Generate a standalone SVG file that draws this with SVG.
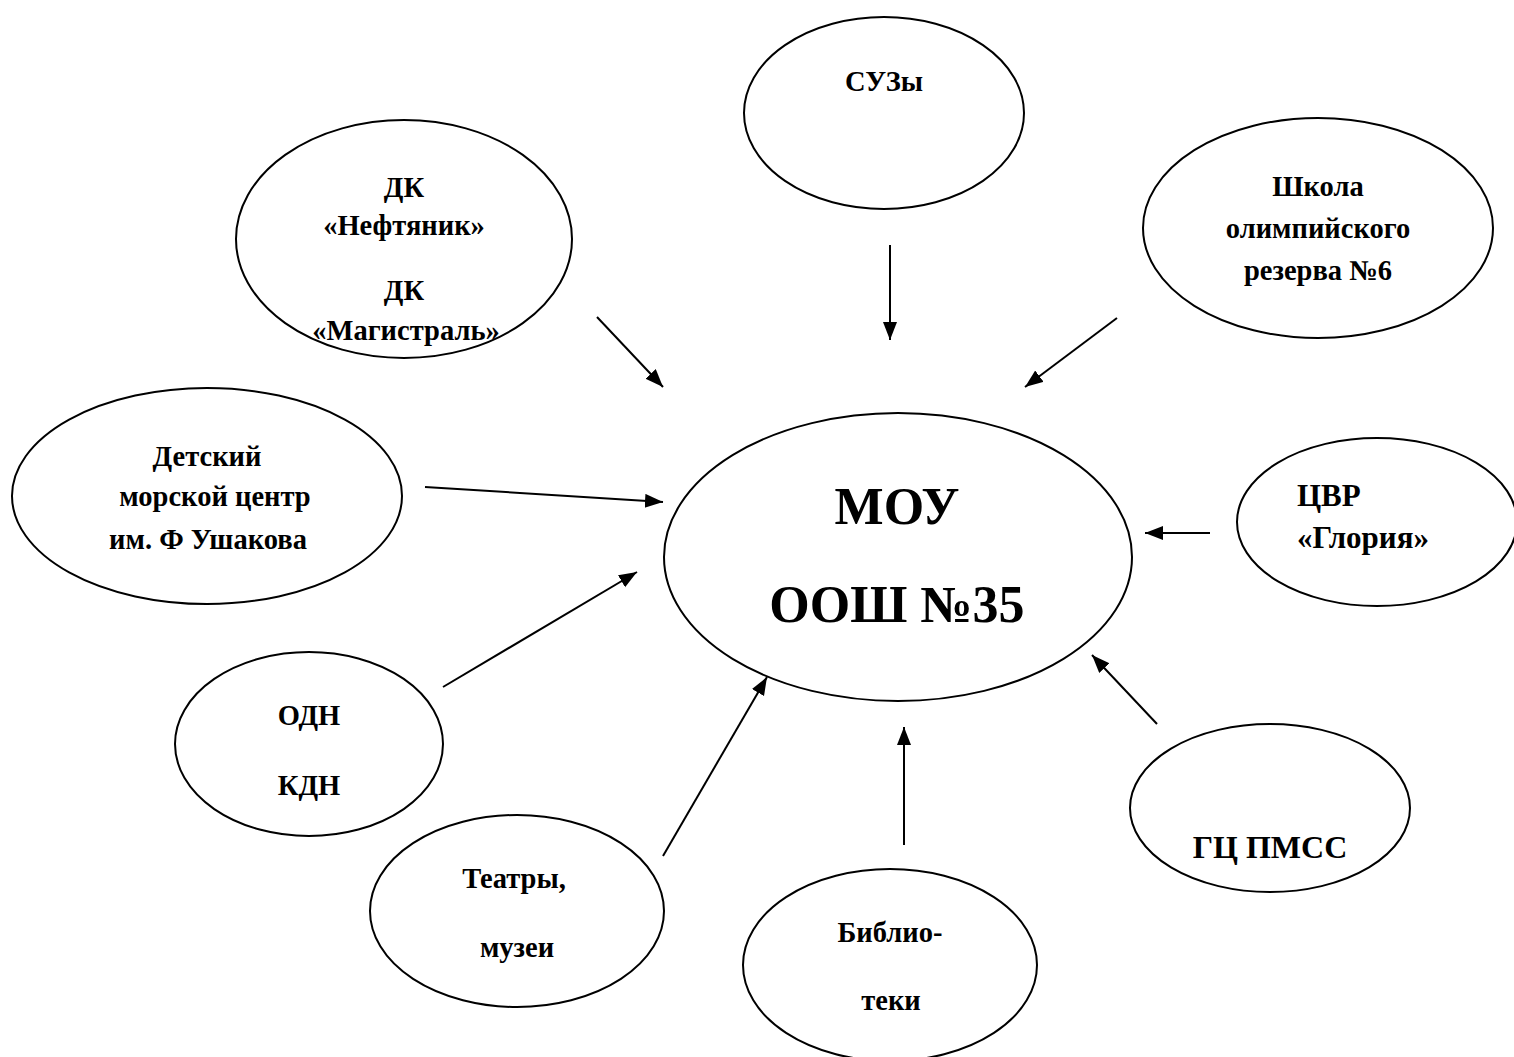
<svg xmlns="http://www.w3.org/2000/svg" width="1514" height="1057" viewBox="0 0 1514 1057">
<defs>
<style>
.n{fill:#fff;stroke:#000;stroke-width:2}
.t{font-family:"Liberation Serif","Times New Roman",serif;font-weight:bold;font-size:28.5px;fill:#000;text-anchor:middle}
.b{font-size:52px}
.l{font-size:31px}
.c line{stroke:#000;stroke-width:2;marker-end:url(#ah)}
</style>
<marker id="ah" markerUnits="userSpaceOnUse" markerWidth="20" markerHeight="16" refX="18" refY="7" orient="auto">
<path d="M0,0 L18,7 L0,14 z" fill="#000"/>
</marker>
</defs>
<rect width="1514" height="1057" fill="#fff"/>
<g id="suzy"><ellipse class="n" cx="884" cy="113" rx="140" ry="96"/><text class="t" x="884" y="91">СУЗы</text></g>
<g id="dk"><ellipse class="n" cx="404" cy="239" rx="168" ry="119"/>
<text class="t" x="404" y="197">ДК</text><text class="t" x="404" y="235">«Нефтяник»</text><text class="t" x="404" y="300">ДК</text><text class="t" x="406" y="340">«Магистраль»</text></g>
<g id="shkola"><ellipse class="n" cx="1318" cy="228" rx="175" ry="110"/>
<text class="t" x="1318" y="196">Школа</text><text class="t" x="1318" y="238">олимпийского</text><text class="t" x="1318" y="280">резерва №6</text></g>
<g id="detskiy"><ellipse class="n" cx="207" cy="496" rx="195" ry="108"/>
<text class="t" x="207" y="466">Детский</text><text class="t" x="215" y="506">морской центр</text><text class="t" x="208" y="549">им. Ф Ушакова</text></g>
<g id="mou"><ellipse class="n" cx="898" cy="557" rx="234" ry="144"/>
<text class="t b" x="897" y="524">МОУ</text><text class="t b" x="897" y="622">ООШ №35</text></g>
<g id="cvr"><ellipse class="n" cx="1377" cy="522" rx="140" ry="84"/>
<text class="t l" x="1297" y="506" style="text-anchor:start">ЦВР</text><text class="t l" x="1297" y="548" style="text-anchor:start">«Глория»</text></g>
<g id="odn"><ellipse class="n" cx="309" cy="744" rx="134" ry="92"/>
<text class="t" x="309" y="725">ОДН</text><text class="t" x="309" y="795">КДН</text></g>
<g id="teatry"><ellipse class="n" cx="517" cy="911" rx="147" ry="96"/>
<text class="t" x="514" y="888">Театры,</text><text class="t" x="517" y="957">музеи</text></g>
<g id="biblio"><ellipse class="n" cx="890" cy="965" rx="147" ry="96"/>
<text class="t" x="890" y="942">Библио-</text><text class="t" x="891" y="1010">теки</text></g>
<g id="gc"><ellipse class="n" cx="1270" cy="808" rx="140" ry="84"/>
<text class="t l" x="1270" y="858" style="font-size:32px">ГЦ ПМСС</text></g>
<g id="connectors" class="c">
<line x1="597" y1="317" x2="663" y2="387"/>
<line x1="890" y1="245" x2="890" y2="340"/>
<line x1="1117" y1="318" x2="1025" y2="387"/>
<line x1="425" y1="487" x2="663" y2="502"/>
<line x1="1210" y1="533" x2="1145" y2="533"/>
<line x1="443" y1="687" x2="637" y2="572"/>
<line x1="663" y1="856" x2="767" y2="677"/>
<line x1="904" y1="845" x2="904" y2="727"/>
<line x1="1157" y1="724" x2="1092" y2="655"/>
</g>
</svg>
